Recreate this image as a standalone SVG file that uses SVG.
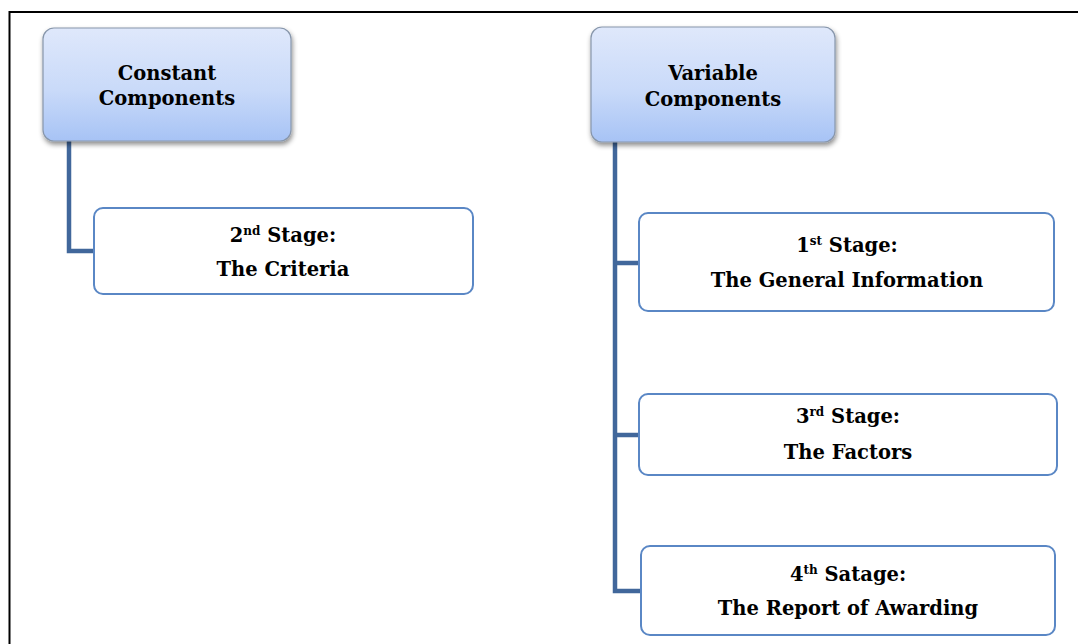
<svg xmlns="http://www.w3.org/2000/svg" width="1078" height="644" viewBox="0 0 1078 644">
<style>
.t{font-family:"DejaVu Serif","Liberation Serif",serif;font-weight:bold;font-size:19.5px;fill:#000;text-anchor:middle}
.sup{font-size:12px}
.head{fill:url(#hg);stroke:#8796ab;stroke-width:1.2;filter:url(#sh)}
.box{fill:#fff;stroke:#5a87c5;stroke-width:2}
.conn{fill:none;stroke:#41679b;stroke-width:4.5;stroke-linejoin:miter}
</style>
<defs>
<linearGradient id="hg" x1="0" y1="0" x2="0" y2="1">
<stop offset="0" stop-color="#dfe8fb"/>
<stop offset="0.55" stop-color="#c9daf9"/>
<stop offset="1" stop-color="#a7c3f5"/>
</linearGradient>
<filter id="sh" x="-10%" y="-10%" width="125%" height="130%">
<feDropShadow dx="1" dy="3" stdDeviation="2.5" flood-color="#000" flood-opacity="0.45"/>
</filter>
</defs>
<rect width="1078" height="644" fill="#fff"/>
<path d="M9.5 644 V12 H1078" fill="none" stroke="#000" stroke-width="2"/>
<g id="connectors">
<path class="conn" d="M69 141 V251 H95"/>
<path class="conn" d="M615 142 V591 H641"/>
<path class="conn" d="M615 263 H640"/>
<path class="conn" d="M615 435 H640"/>
</g>
<g id="constant">
<rect class="head" x="43" y="28" width="248" height="113" rx="11"/>
<text class="t" x="167" y="80">Constant</text>
<text class="t" x="167" y="105">Components</text>
</g>
<g id="variable">
<rect class="head" x="591" y="27" width="244" height="115" rx="11"/>
<text class="t" x="713" y="80">Variable</text>
<text class="t" x="713" y="106">Components</text>
</g>
<g id="stage2">
<rect class="box" x="94" y="208" width="379" height="86" rx="9"/>
<text class="t" x="283" y="242">2<tspan class="sup" dy="-7">nd</tspan><tspan dy="7"> Stage:</tspan></text>
<text class="t" x="283" y="276">The Criteria</text>
</g>
<g id="stage1">
<rect class="box" x="639" y="213" width="415" height="98" rx="9"/>
<text class="t" x="847" y="252">1<tspan class="sup" dy="-7">st</tspan><tspan dy="7"> Stage:</tspan></text>
<text class="t" x="847" y="287">The General Information</text>
</g>
<g id="stage3">
<rect class="box" x="639" y="394" width="418" height="81" rx="9"/>
<text class="t" x="848" y="423">3<tspan class="sup" dy="-7">rd</tspan><tspan dy="7"> Stage:</tspan></text>
<text class="t" x="848" y="459">The Factors</text>
</g>
<g id="stage4">
<rect class="box" x="641" y="546" width="414" height="89" rx="9"/>
<text class="t" x="848" y="581">4<tspan class="sup" dy="-7">th</tspan><tspan dy="7"> Satage:</tspan></text>
<text class="t" x="848" y="615">The Report of Awarding</text>
</g>
</svg>
